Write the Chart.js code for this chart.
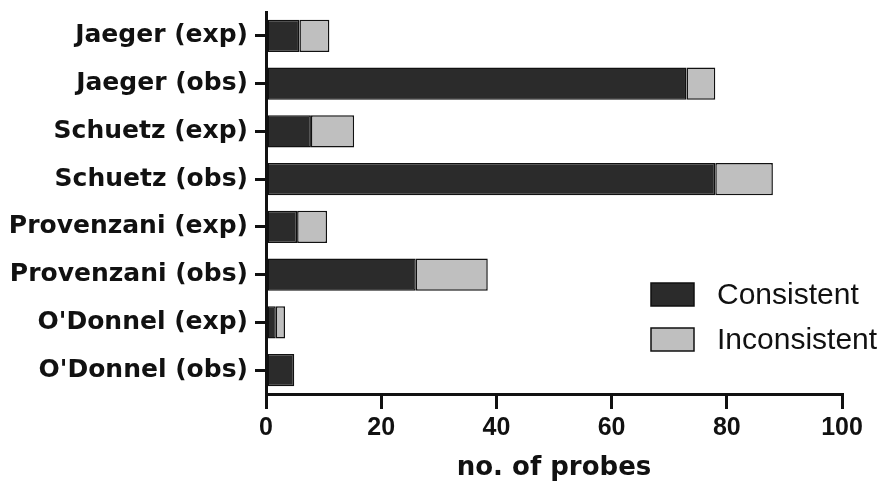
<!DOCTYPE html>
<html>
<head>
<meta charset="utf-8">
<script src="https://cdn.jsdelivr.net/npm/chart.js@4/dist/chart.umd.min.js"></script>
<style>
  body { margin: 0; background: #fff; }
  #wrap { width: 890px; height: 485px; }
</style>
</head>
<body>
<div id="wrap"><canvas id="probeChart" width="890" height="485"></canvas></div>
<script>
// categories (top to bottom)
var studies = ['Jaeger (exp)', 'Jaeger (obs)', 'Schuetz (exp)', 'Schuetz (obs)',
               'Provenzani (exp)', 'Provenzani (obs)', "O'Donnel (exp)", "O'Donnel (obs)"];
// no. of probes
var consistent   = [5.8, 73, 7.8, 78, 5.4, 26, 1.7, 4.9];
var inconsistent = [5.2, 5, 7.5, 10, 5.2, 12.5, 1.6, 0];
var xTicks = [0, 20, 40, 60, 80, 100];

// legend drawn inside the plot, like the original figure
var boxLegend = {
    id: 'boxLegend',
    afterDraw: function(chart, args, opts) {
        var ctx = chart.ctx;
        ctx.save();
        chart.data.datasets.forEach(function(ds, i) {
            var y = opts.top + i * opts.rowGap;
            ctx.fillStyle = ds.backgroundColor;
            ctx.fillRect(opts.left, y, opts.boxW, opts.boxH);
            ctx.strokeStyle = ds.borderColor;
            ctx.lineWidth = 1.5;
            ctx.strokeRect(opts.left, y, opts.boxW, opts.boxH);
            ctx.fillStyle = '#111';
            ctx.font = '30px "Liberation Sans", Arial, sans-serif';
            ctx.textBaseline = 'middle';
            ctx.textAlign = 'left';
            ctx.fillText(ds.label, opts.left + opts.boxW + 23, y + opts.boxH / 2 + 1);
        });
        ctx.restore();
    }
};

var ctx = document.getElementById('probeChart').getContext('2d');
new Chart(ctx, {
    type: 'bar',
    data: {
        labels: studies,
        datasets: [{
            label: 'Consistent',
            data: consistent,
            backgroundColor: '#2b2b2b',
            borderColor: '#111',
            borderWidth: 1.5,
            borderSkipped: false
        }, {
            label: 'Inconsistent',
            data: inconsistent,
            backgroundColor: '#bfbfbf',
            borderColor: '#111',
            borderWidth: 1.5,
            borderSkipped: false
        }]
    },
    options: {
        indexAxis: 'y',
        responsive: false,
        animation: false,
        barPercentage: 0.68,
        categoryPercentage: 1,
        layout: { padding: { top: 12, right: 48, left: 0, bottom: 0 } },
        plugins: {
            legend: { display: false },
            tooltip: { enabled: false },
            boxLegend: { left: 651, top: 283, boxW: 43, boxH: 23, rowGap: 45 }
        },
        scales: {
            x: {
                stacked: true,
                min: 0,
                max: 100,
                afterBuildTicks: function(scale) {
                    scale.ticks = xTicks.map(function(v) { return { value: v }; });
                },
                afterFit: function(scale) { scale.height = 91; },
                grid: {
                    drawOnChartArea: false,
                    drawTicks: true,
                    tickLength: 15,
                    lineWidth: 3,
                    tickWidth: 3,
                    tickColor: '#111'
                },
                border: { color: '#111', width: 3 },
                ticks: {
                    padding: 4,
                    color: '#111',
                    font: { family: '"Liberation Sans", Arial, sans-serif', size: 25, weight: 'bold' }
                },
                title: {
                    display: true,
                    text: 'no. of probes',
                    color: '#111',
                    padding: { top: 4, bottom: 1 },
                    font: { family: '"DejaVu Sans", sans-serif', size: 26, weight: 'bold' }
                }
            },
            y: {
                stacked: true,
                afterFit: function(scale) {
                    scale.width = 266;
                    scale.paddingTop = 0;
                    scale.paddingBottom = 0;
                },
                grid: {
                    offset: false,
                    drawOnChartArea: false,
                    drawTicks: true,
                    tickLength: 11,
                    lineWidth: 3,
                    tickWidth: 3,
                    tickColor: '#111'
                },
                border: { color: '#111', width: 3 },
                ticks: {
                    padding: 7,
                    color: '#111',
                    font: { family: '"DejaVu Sans", sans-serif', size: 25, weight: 'bold' }
                }
            }
        }
    },
    plugins: [boxLegend]
});
</script>
</body>
</html>
